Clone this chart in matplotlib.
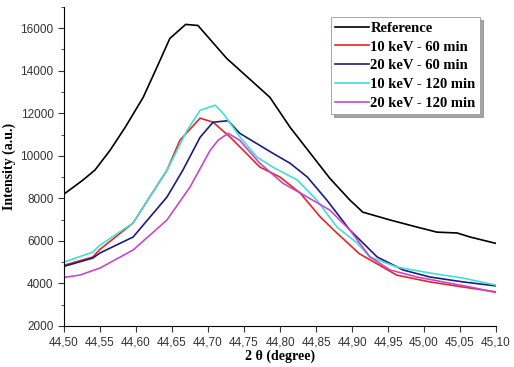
import matplotlib
matplotlib.use("Agg")
import matplotlib.pyplot as plt
from matplotlib.ticker import MultipleLocator, FuncFormatter

# Data
ref_x = [44.500, 44.526, 44.543, 44.564, 44.585, 44.610, 44.629, 44.647, 44.669, 44.686,
         44.726, 44.749, 44.786, 44.814, 44.869, 44.897, 44.915, 44.953, 44.990, 45.018,
         45.046, 45.064, 45.100]
ref_y = [8200, 8850, 9330, 10260, 11340, 12750, 14160, 15520, 16180, 16130,
         14580, 13880, 12750, 11340, 8950, 7920, 7350, 6980, 6650, 6410,
         6370, 6180, 5880]

r60_x = [44.500, 44.540, 44.550, 44.596, 44.619, 44.643, 44.661, 44.689, 44.707, 44.731,
         44.749, 44.772, 44.800, 44.828, 44.856, 44.879, 44.910, 44.962, 45.008, 45.054, 45.100]
r60_y = [4850, 5240, 5600, 6840, 8060, 9320, 10730, 11770, 11580, 10870,
         10260, 9470, 9000, 8250, 7120, 6370, 5400, 4390, 4070, 3830, 3600]

b60_x = [44.500, 44.540, 44.550, 44.596, 44.643, 44.665, 44.689, 44.707, 44.728, 44.744,
         44.790, 44.814, 44.838, 44.865, 44.897, 44.935, 44.971, 45.008, 45.054, 45.100]
b60_y = [4800, 5190, 5430, 6180, 8060, 9320, 10870, 11580, 11650, 11060,
         10120, 9650, 9000, 7920, 6510, 5240, 4630, 4300, 4070, 3880]

c120_x = [44.500, 44.540, 44.550, 44.596, 44.619, 44.643, 44.671, 44.689, 44.710, 44.721,
          44.744, 44.768, 44.790, 44.824, 44.851, 44.879, 44.907, 44.925, 44.962, 45.008,
          45.054, 45.100]
c120_y = [5000, 5470, 5800, 6840, 8060, 9320, 11200, 12140, 12380, 12000,
          10900, 9940, 9470, 8860, 7920, 6650, 5900, 5240, 4770, 4490,
          4250, 3920]

m120_x = [44.500, 44.522, 44.550, 44.596, 44.643, 44.675, 44.703, 44.714, 44.728, 44.744,
          44.772, 44.804, 44.838, 44.869, 44.897, 44.925, 44.953, 44.990, 45.026, 45.064, 45.100]
m120_y = [4280, 4390, 4720, 5570, 6980, 8530, 10260, 10730, 11060, 10730,
          9650, 8710, 8060, 7450, 6510, 5240, 4630, 4300, 4070, 3830, 3570]

labels = ["Reference", "10 keV - 60 min", "20 keV - 60 min", "10 keV - 120 min", "20 keV - 120 min"]
colors = ["black", "#e02828", "#1c1c80", "#40e0d8", "#c848c8"]

fig = plt.figure(figsize=(5.14, 3.67), dpi=100)
ax = fig.add_axes([0.1245, 0.112, 0.8405, 0.869])

series = [(ref_x, ref_y), (r60_x, r60_y), (b60_x, b60_y), (c120_x, c120_y), (m120_x, m120_y)]
for (xs, ys), lab, col in zip(series, labels, colors):
    ax.plot(xs, ys, color=col, lw=1.2, label=lab)

ax.set_xlim(44.5, 45.1)
ax.set_ylim(2000, 17000)
ax.spines["top"].set_visible(False)
ax.spines["right"].set_visible(False)
ax.xaxis.set_major_locator(MultipleLocator(0.05))
ax.yaxis.set_major_locator(MultipleLocator(2000))
ax.yaxis.set_minor_locator(MultipleLocator(1000))
ax.xaxis.set_major_formatter(FuncFormatter(lambda v, p: f"{v:.2f}".replace(".", ",")))
ax.tick_params(which="both", direction="out", labelsize=8.5, colors="#333333")
ax.tick_params(which="major", length=4)
ax.tick_params(which="minor", length=2)
for lbl in ax.get_xticklabels() + ax.get_yticklabels():
    lbl.set_family("Liberation Sans")

ax.set_xlabel("2 θ (degree)", family="Liberation Serif", fontweight="bold", fontsize=10, labelpad=1)
ax.set_ylabel("Intensity (a.u.)", family="Liberation Serif", fontweight="bold", fontsize=10, labelpad=3)

leg = ax.legend(loc="upper right", bbox_to_anchor=(0.963, 0.968), fancybox=False, shadow=True,
                prop={"family": "Liberation Serif", "weight": "bold", "size": 10.5},
                handlelength=2.3, handletextpad=0.1, borderpad=0.3, labelspacing=0.38,
                borderaxespad=0)
leg.get_frame().set_edgecolor("#999999")
leg.get_frame().set_linewidth(0.6)

fig.savefig("out.png", dpi=100)
